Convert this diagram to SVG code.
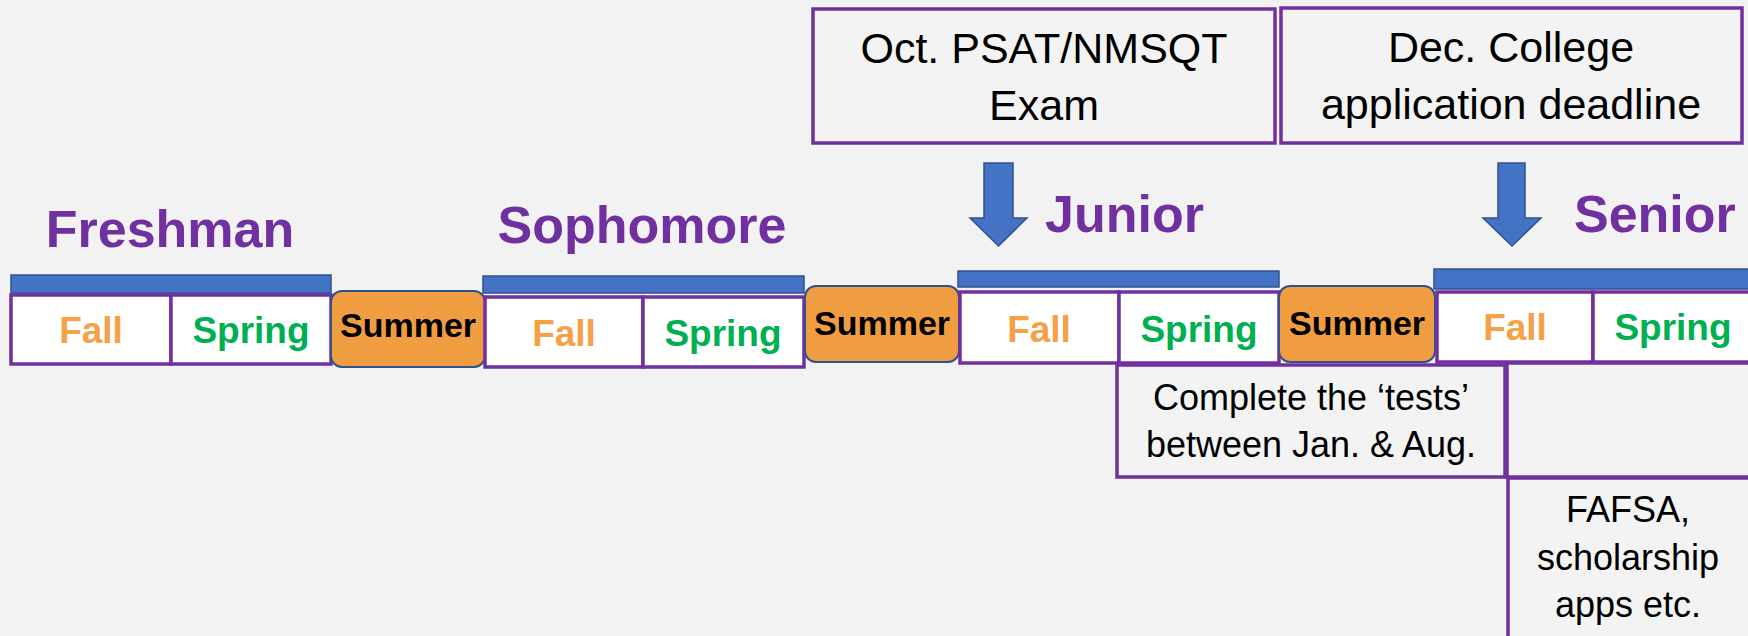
<svg xmlns="http://www.w3.org/2000/svg" width="1748" height="636" viewBox="0 0 1748 636">
<style>
text{font-family:"Liberation Sans",Arial,sans-serif;text-anchor:middle}
.hd{font-size:52px;font-weight:bold;fill:#7030A0}
.bar{fill:#4472C4;stroke:#2F528F;stroke-width:1.5}
.sea{fill:#FFFFFF;stroke:#7030A0;stroke-width:3.5}
.box{fill:#F3F3F3;stroke:#7030A0;stroke-width:3.5}
.sum{fill:#F09D42;stroke:#2F528F;stroke-width:2}
.fall{font-size:37px;font-weight:bold;fill:#F4A148}
.spr{font-size:37px;font-weight:bold;fill:#00B050}
.st{font-size:34px;font-weight:bold;fill:#000}
.big{font-size:43px;fill:#000}
.mid{font-size:36px;fill:#000}
.arr{fill:#4472C4;stroke:#2F528F;stroke-width:1.5}
</style>
<rect x="0" y="0" width="1748" height="636" fill="#F2F2F2"/>

<g id="freshman">
<text class="hd" x="170" y="247">Freshman</text>
<rect class="bar" x="11" y="275" width="320" height="18"/>
<rect class="sea" x="11" y="295" width="160" height="69"/>
<rect class="sea" x="171" y="295" width="160" height="69"/>
<text class="fall" x="91" y="343">Fall</text>
<text class="spr" x="251" y="343">Spring</text>
</g>

<g id="summer1">
<rect class="sum" x="331" y="291" width="154" height="76" rx="11"/>
<text class="st" x="408" y="337">Summer</text>
</g>

<g id="sophomore">
<text class="hd" x="642" y="243">Sophomore</text>
<rect class="bar" x="483" y="276" width="321" height="17"/>
<rect class="sea" x="485" y="297" width="158" height="70"/>
<rect class="sea" x="643" y="297" width="161" height="70"/>
<text class="fall" x="564" y="346">Fall</text>
<text class="spr" x="723" y="346">Spring</text>
</g>

<g id="summer2">
<rect class="sum" x="805" y="286" width="154" height="76" rx="11"/>
<text class="st" x="882" y="335">Summer</text>
</g>

<g id="junior">
<text class="hd" x="1045" y="232" style="text-anchor:start">Junior</text>
<rect class="bar" x="958" y="271" width="321" height="16"/>
<rect class="sea" x="960" y="292" width="159" height="71"/>
<rect class="sea" x="1119" y="292" width="160" height="71"/>
<text class="fall" x="1039" y="342">Fall</text>
<text class="spr" x="1199" y="342">Spring</text>
</g>

<g id="summer3">
<rect class="sum" x="1279" y="286" width="156" height="76" rx="11"/>
<text class="st" x="1357" y="335">Summer</text>
</g>

<g id="senior">
<text class="hd" x="1574" y="232" style="text-anchor:start">Senior</text>
<rect class="bar" x="1434" y="269" width="330" height="20"/>
<rect class="sea" x="1437" y="292" width="156" height="70"/>
<rect class="sea" x="1593" y="292" width="170" height="70"/>
<text class="fall" x="1515" y="340">Fall</text>
<text class="spr" x="1673" y="340">Spring</text>
</g>

<g id="psat">
<rect class="box" x="813" y="9" width="462" height="134"/>
<text class="big" x="1044" y="63">Oct. PSAT/NMSQT</text>
<text class="big" x="1044" y="120">Exam</text>
</g>

<g id="deadline">
<rect class="box" x="1281" y="8" width="461" height="135"/>
<text class="big" x="1511" y="62">Dec. College</text>
<text class="big" x="1511" y="119">application deadline</text>
</g>

<g id="tests">
<rect class="box" x="1117" y="365" width="388" height="112"/>
<text class="mid" x="1311" y="410">Complete the ‘tests’</text>
<text class="mid" x="1311" y="457">between Jan. &amp; Aug.</text>
</g>

<g id="blank">
<rect class="box" x="1507" y="363" width="260" height="114"/>
</g>

<g id="fafsa">
<rect class="box" x="1508" y="478" width="260" height="170"/>
<text class="mid" x="1628" y="522">FAFSA,</text>
<text class="mid" x="1628" y="570">scholarship</text>
<text class="mid" x="1628" y="617">apps etc.</text>
</g>

<g id="connectors">
<polygon class="arr" points="984,163 1013,163 1013,218 1027,218 998.5,246 970,218 984,218"/>
<polygon class="arr" points="1498,163 1525,163 1525,218 1541,218 1512,246 1483,218 1498,218"/>
</g>
</svg>
